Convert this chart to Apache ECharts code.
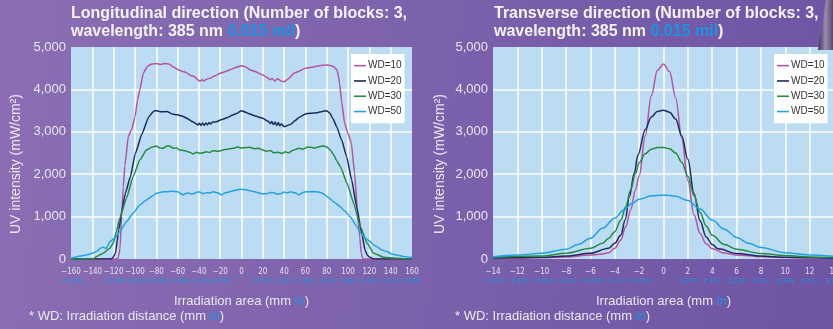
<!DOCTYPE html>
<html>
<head>
<meta charset="utf-8">
<style>
  html, body { margin: 0; padding: 0; }
  #chart { width: 833px; height: 329px; }
</style>
<script src="https://cdn.jsdelivr.net/npm/echarts@6/dist/echarts.min.js"></script>
</head>
<body>
<div id="chart"></div>
<script>
// Longitudinal profile: [position mm, intensity mW/cm²]
const lonWd10 = [[-160,0],[-140,0],[-120,0],[-116,0],[-114,250],[-112.5,1000],[-111,1700],[-109.4,2200],[-106.2,2900],[-103.1,3050],[-100,3350],[-97.5,3750],[-95.3,4000],[-92.2,4380],[-88.4,4540],[-84,4600],[-80,4610],[-76,4590],[-72,4610],[-68,4600],[-64,4530],[-60,4470],[-56,4430],[-52,4400],[-48,4330],[-44,4300],[-41,4230],[-39,4190],[-37,4230],[-35,4200],[-33,4240],[-29,4270],[-25,4320],[-20,4380],[-15,4420],[-10,4470],[-5,4520],[0,4560],[4,4530],[8,4460],[13,4420],[17,4370],[20,4340],[24,4280],[27,4230],[29,4260],[31,4200],[34,4250],[37,4200],[40,4180],[43,4230],[46,4300],[49,4380],[54,4430],[60,4500],[66,4520],[71,4550],[76,4570],[80,4575],[84,4560],[87,4530],[89.7,4450],[91,4300],[92.1,4140],[94,3700],[96.8,3200],[99.9,2960],[103,2750],[106,2050],[109.2,1000],[111,500],[112.4,130],[114,0],[120,0],[140,0],[160,0]];
const lonWd20 = [[-160,0],[-140,0],[-122,0],[-120.5,40],[-118.3,135],[-115.2,680],[-112.1,1160],[-109,1550],[-104.3,1940],[-99.6,2490],[-93.3,2960],[-87.1,3350],[-83,3470],[-80.8,3500],[-77,3480],[-74.6,3470],[-70,3480],[-65.2,3420],[-60,3400],[-55.8,3370],[-52,3330],[-49.5,3290],[-46,3240],[-43.3,3200],[-41,3160],[-39.5,3200],[-38,3150],[-36.5,3210],[-35,3150],[-33.5,3210],[-32,3160],[-30.5,3220],[-29,3180],[-27,3230],[-24.5,3230],[-18.3,3290],[-13,3340],[-8.9,3390],[-4,3440],[0,3497],[4,3460],[7.8,3420],[13,3370],[20,3317],[24,3260],[25.5,3240],[27,3190],[28.5,3240],[30,3170],[31.5,3230],[33,3150],[34.5,3220],[36,3140],[37.5,3190],[40,3120],[43,3150],[46.3,3176],[50,3260],[54,3340],[60,3420],[65,3440],[71,3450],[76,3480],[80,3497],[83,3435],[86,3300],[89.3,3120],[94,2806],[98.7,2413],[103.4,1862],[108.1,1234],[112.8,605],[115.9,212],[118,90],[120.6,40],[124,0],[140,0],[160,0]];
const lonWd30 = [[-160,0],[-139,5],[-136.1,55],[-129.9,135],[-123.6,252],[-120.5,370],[-117.4,645],[-114.2,960],[-108,1430],[-101.7,1940],[-95.5,2335],[-89.2,2570],[-84,2640],[-80,2665],[-77,2620],[-73.7,2610],[-70.5,2660],[-67.5,2665],[-64,2610],[-61,2620],[-58,2570],[-54,2560],[-50,2530],[-47,2500],[-45.6,2476],[-42,2520],[-39,2490],[-36.2,2508],[-33,2530],[-30,2510],[-26.8,2555],[-22,2540],[-17.4,2570],[-13,2590],[-8,2610],[-4,2640],[0,2620],[4,2630],[7.8,2633],[12,2600],[16,2610],[20,2570],[24,2540],[27,2560],[30.3,2508],[34,2520],[38,2490],[41,2530],[44.2,2500],[48,2560],[51,2590],[54,2610],[58,2590],[62,2640],[65,2633],[69,2620],[73,2650],[77,2665],[80,2640],[83.4,2570],[87,2440],[89,2330],[92.8,2177],[99.1,1784],[105.3,1312],[111.6,762],[117.9,370],[124.1,135],[133.5,40],[146,15],[158.6,0],[160,0]];
const lonWd50 = [[-160,10],[-151.6,70],[-145,100],[-140,135],[-136,175],[-132,260],[-129.9,275],[-127,250],[-125,330],[-123.6,410],[-118.9,490],[-114.2,645],[-108,880],[-101.7,1077],[-95.5,1273],[-89.2,1390],[-84,1480],[-80,1549],[-75,1580],[-70.6,1588],[-65,1600],[-59.7,1588],[-55,1510],[-52,1545],[-50.3,1565],[-47,1530],[-45.6,1534],[-42,1575],[-39.3,1580],[-36,1540],[-33,1565],[-29,1560],[-26.8,1588],[-22,1560],[-19,1510],[-15,1560],[-11.1,1588],[-6,1620],[-1.7,1643],[3,1640],[7.8,1612],[13,1580],[20,1534],[24,1540],[27,1570],[30.3,1565],[33,1530],[36.5,1534],[40,1580],[43,1560],[46,1588],[50,1560],[54,1510],[57,1560],[60,1588],[66,1590],[71,1588],[75,1560],[78.6,1510],[82,1440],[86.4,1352],[92.7,1234],[97,1130],[102,998],[108.3,762],[111,640],[114.6,527],[117,480],[120.8,410],[124,330],[127.1,290],[131,220],[136.5,175],[141,120],[145.9,95],[152,60],[158.5,40],[160,30]];

// Transverse profile: [position mm, intensity mW/cm²]
const trnWd10 = [[-14,15],[-12,20],[-10,30],[-8,50],[-6,95],[-5,120],[-4.5,150],[-4,252],[-3.5,450],[-3.1,765],[-2.7,1156],[-2.3,1627],[-2,1950],[-1.5,2900],[-1,3850],[-0.5,4450],[0,4600],[0.5,4420],[1,3800],[1.5,2850],[2,1850],[2.5,1050],[3,600],[3.5,360],[4,240],[5,140],[6,95],[8,55],[10,35],[12,25],[14,15]];
const trnWd20 = [[-14,25],[-10,40],[-8,70],[-6,135],[-4.5,252],[-4,370],[-3.5,566],[-3.15,920],[-2.8,1470],[-2.4,2020],[-2.1,2450],[-1.5,3050],[-1,3350],[-0.5,3480],[0,3510],[0.5,3460],[1,3300],[1.5,2900],[2,2350],[2.5,1550],[3,900],[3.5,520],[4,340],[4.5,240],[6,130],[8,70],[10,40],[14,20]];
const trnWd30 = [[-14,40],[-10,70],[-8,135],[-6,252],[-5,370],[-4.5,488],[-4,645],[-3.5,920],[-3.1,1234],[-2.7,1627],[-2.3,2020],[-2,2270],[-1.5,2480],[-1,2590],[-0.5,2630],[0,2630],[0.5,2600],[1,2500],[1.5,2280],[2,1950],[2.5,1500],[3,1100],[3.5,780],[4,560],[5,340],[6,230],[8,130],[10,80],[12,50],[14,35]];
const trnWd50 = [[-14,55],[-12,95],[-10,135],[-8,230],[-7,340],[-6,488],[-5,724],[-4,960],[-3.27,1156],[-2.58,1312],[-2,1408],[-1,1490],[0,1510],[1,1480],[2,1380],[3,1180],[4,920],[5,700],[6,510],[7,370],[8,270],[10,150],[12,95],[14,60]];

// Tick labels: millimetres, with inch equivalents on a second row
const lonMm = ['−160','−140','−120','−100','−80','−60','−40','−20','0','20','40','60','80','100','120','140','160'];
const lonIn = ['−6.299','−5.512','−4.724','−3.937','−3.150','−2.362','−1.575','−0.787','','0.787','1.575','2.362','3.150','3.937','4.724','5.512','6.299'];
const trnMm = ['−14','−12','−10','−8','−6','−4','−2','0','2','4','6','8','10','12','14'];
const trnIn = ['−0.551','−0.472','−0.394','−0.315','−0.236','−0.157','−0.079','','0.079','0.157','0.236','0.315','0.394','0.472','0.551'];

const seriesNames = ['WD=10', 'WD=20', 'WD=30', 'WD=50'];
const seriesColors = ['#b9529f', '#1c2b5f', '#238b3e', '#21a3e3'];

const FONT = "'Liberation Sans', Arial, sans-serif";
const NARROW = "'Liberation Sans Narrow', 'DejaVu Sans Condensed', 'Liberation Sans', Arial, sans-serif";
const LIGHT = '#ebe7f2';
const BLUE = '#1796e2';

const chart = echarts.init(document.getElementById('chart'), null, { renderer: 'canvas' });

function pick(list, min, step) {
  return v => list[Math.round((v - min) / step)] || '';
}

const titleRich = {
  w: { fontFamily: FONT, fontSize: 16, fontWeight: 'bold', color: '#f6f3fb', lineHeight: 18 },
  b: { fontFamily: FONT, fontSize: 16, fontWeight: 'bold', color: BLUE, lineHeight: 18 }
};

// main x axis: grid lines, mm labels and the axis title
function xMain(idx, min, max, step, mm) {
  return {
    type: 'value', gridIndex: idx, min: min, max: max, interval: step, position: 'bottom',
    axisLine: { show: false }, axisTick: { show: false },
    splitLine: { show: true, showMinLine: false, showMaxLine: false, lineStyle: { color: '#ffffff', width: 1.5 } },
    axisLabel: {
      margin: 8, showMinLabel: true, showMaxLabel: true, hideOverlap: false, interval: 0, minMargin: 0,
      formatter: pick(mm, min, step),
      fontFamily: NARROW, fontSize: 8, color: '#e4dfee', lineHeight: 9
    },
    name: '{a|Irradiation area (mm }{b|in}{a|)}',
    nameLocation: 'middle', nameGap: 35,
    nameTextStyle: {
      rich: {
        a: { fontFamily: FONT, fontSize: 13, color: LIGHT, lineHeight: 15 },
        b: { fontFamily: FONT, fontSize: 13, color: BLUE, lineHeight: 15 }
      }
    }
  };
}

// companion x axis carrying only the inch labels
function xInch(idx, min, max, step, inch) {
  return {
    type: 'value', gridIndex: idx, min: min, max: max, interval: step, position: 'bottom', offset: 10,
    axisLine: { show: false }, axisTick: { show: false }, splitLine: { show: false },
    axisLabel: {
      margin: 8, showMinLabel: true, showMaxLabel: true, hideOverlap: false, interval: 0, minMargin: 0,
      formatter: pick(inch, min, step),
      fontFamily: NARROW, fontSize: 6.5, color: BLUE, lineHeight: 8
    }
  };
}

function yAxisCfg(idx) {
  return {
    type: 'value', gridIndex: idx, min: 0, max: 5000, interval: 1000,
    axisLine: { show: false }, axisTick: { show: false },
    splitLine: { show: true, showMinLine: false, showMaxLine: false, lineStyle: { color: '#ffffff', width: 1.5 } },
    axisLabel: {
      margin: 5, fontFamily: FONT, fontSize: 13, color: LIGHT,
      formatter: v => v.toLocaleString('en-US')
    }
  };
}

function legendCfg(left) {
  return {
    left: left, top: 54, orient: 'vertical',
    data: seriesNames,
    backgroundColor: '#ffffff', borderWidth: 0,
    padding: [4, 3, 4, 3], itemGap: 0,
    icon: 'rect', itemWidth: 12, itemHeight: 1.6,
    textStyle: { fontFamily: FONT, fontSize: 10, color: '#333333', lineHeight: 15.3, padding: [0, 0, 0, -3] }
  };
}

function gridCfg(left) {
  return {
    left: left, top: 47, width: 341, height: 212,
    containLabel: false, outerBoundsMode: 'none',
    show: true, backgroundColor: '#bcdcf3', borderWidth: 0
  };
}

const groups = [
  [lonWd10, lonWd20, lonWd30, lonWd50],
  [trnWd10, trnWd20, trnWd30, trnWd50]
];

const series = [];
groups.forEach((g, gi) => {
  g.forEach((d, si) => {
    series.push({
      type: 'line', name: seriesNames[si],
      xAxisIndex: gi, yAxisIndex: gi,
      data: d, showSymbol: false, symbol: 'none',
      smooth: gi === 1 ? 0.35 : 0.15,
      smoothMonotone: 'x',
      lineStyle: { color: seriesColors[si], width: 1.5 },
      itemStyle: { color: seriesColors[si] }
    });
  });
});

function yName(x) {
  return {
    type: 'text', x: x, y: 164, rotation: Math.PI / 2,
    style: { text: 'UV intensity (mW/cm²)', fill: LIGHT, font: '14px ' + FONT, align: 'center', verticalAlign: 'middle' }
  };
}

function wdNote(x) {
  return {
    type: 'text', x: x, y: 316,
    style: {
      text: '{a|* WD: Irradiation distance (mm }{b|in}{a|)}',
      verticalAlign: 'middle', align: 'left',
      rich: {
        a: { fontFamily: FONT, fontSize: 13, fill: LIGHT },
        b: { fontFamily: FONT, fontSize: 13, fill: BLUE }
      }
    }
  };
}

chart.setOption({
  animation: false,
  backgroundColor: {
    type: 'linear', x: 0, y: 0, x2: 1, y2: 0.3,
    colorStops: [
      { offset: 0, color: '#8b6eb3' },
      { offset: 0.55, color: '#7b60ab' },
      { offset: 1, color: '#6f55a4' }
    ]
  },
  title: [
    { left: 71, top: 5, text: '{w|Longitudinal direction (Number of blocks: 3,}\n{w|wavelength: 385 nm }{b|0.015 mil}{w|)}', textStyle: { rich: titleRich }, padding: 0 },
    { left: 494, top: 5, text: '{w|Transverse direction (Number of blocks: 3,}\n{w|wavelength: 385 nm }{b|0.015 mil}{w|)}', textStyle: { rich: titleRich }, padding: 0 }
  ],
  legend: [legendCfg(351), legendCfg(774)],
  grid: [gridCfg(71), gridCfg(493)],
  xAxis: [
    xMain(0, -160, 160, 20, lonMm),
    xMain(1, -14, 14, 2, trnMm),
    xInch(0, -160, 160, 20, lonIn),
    xInch(1, -14, 14, 2, trnIn)
  ],
  yAxis: [yAxisCfg(0), yAxisCfg(1)],
  series: series,
  graphic: [
    yName(16.5), yName(440),
    wdNote(29), wdNote(455),
    {
      type: 'polygon',
      shape: { points: [[826, 0], [833, 0], [833, 50], [818, 50]] },
      style: {
        fill: {
          type: 'linear', x: 0, y: 0, x2: 1, y2: 0,
          colorStops: [
            { offset: 0, color: '#3e3454' },
            { offset: 0.5, color: '#9a8ab0' },
            { offset: 1, color: '#5a4a6e' }
          ]
        }
      }
    }
  ]
});
</script>
</body>
</html>
